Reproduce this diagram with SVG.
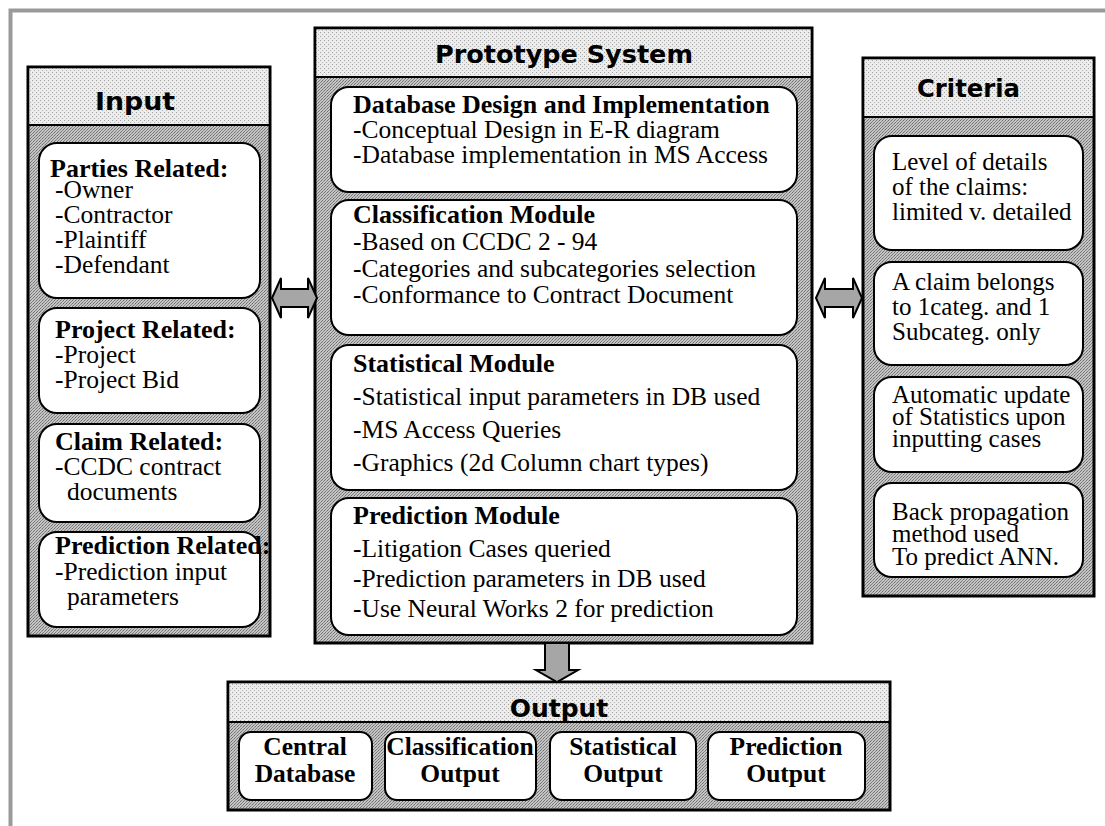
<svg xmlns="http://www.w3.org/2000/svg" width="1105" height="826" viewBox="0 0 1105 826">
<defs>
<pattern id="dith" width="3" height="3" patternUnits="userSpaceOnUse">
<rect width="3" height="3" fill="#c4c4c4"/>
<rect x="0" y="0" width="1" height="1" fill="#6e6e6e"/>
<rect x="2" y="1" width="1" height="1" fill="#8a8a8a"/>
<rect x="1" y="2" width="1" height="1" fill="#7a7a7a"/>
</pattern>
<pattern id="light" width="4" height="4" patternUnits="userSpaceOnUse">
<rect width="4" height="4" fill="#ececec"/>
<rect x="0" y="0" width="1" height="1" fill="#a0a0a0"/>
<rect x="2" y="2" width="1" height="1" fill="#b4b4b4"/>
</pattern>
</defs>
<style>
.outer{fill:url(#dith);stroke:#000;stroke-width:3}
.head{fill:url(#light);stroke:none}
.div{stroke:#000;stroke-width:2}
.inner{fill:#fff;stroke:#000;stroke-width:2}
.title{font-family:"DejaVu Sans",Verdana,sans-serif;font-weight:bold;font-size:25px;fill:#000}
.hb{font-family:"Liberation Serif","Times New Roman",serif;font-weight:bold;font-size:26px;fill:#000}
.tx{font-family:"Liberation Serif","Times New Roman",serif;font-size:25.5px;fill:#000}
.cx{font-family:"Liberation Serif","Times New Roman",serif;font-size:25px;fill:#000}
.ob{font-family:"Liberation Serif","Times New Roman",serif;font-weight:bold;font-size:25.5px;fill:#000;text-anchor:middle}
.arrow{fill:#a6a6a6;stroke:#000;stroke-width:2;stroke-linejoin:miter}
</style>
<rect width="1105" height="826" fill="#fff"/>
<path d="M10.5,826 V10.5 H1105" fill="none" stroke="#9a9a9a" stroke-width="4"/>

<g id="input">
<rect class="outer" x="28" y="67" width="242" height="569"/>
<rect class="head" x="29.5" y="68.5" width="239" height="56"/>
<line class="div" x1="28" y1="125" x2="270" y2="125"/>
<text class="title" x="95" y="110" textLength="80" lengthAdjust="spacingAndGlyphs">Input</text>
<rect class="inner" x="39" y="143" width="221" height="155" rx="18"/>
<text class="hb" x="50" y="177">Parties Related:</text>
<text class="tx" x="55" y="198">-Owner</text>
<text class="tx" x="55" y="223">-Contractor</text>
<text class="tx" x="55" y="248">-Plaintiff</text>
<text class="tx" x="55" y="273">-Defendant</text>
<rect class="inner" x="39" y="308" width="221" height="105" rx="18"/>
<text class="hb" x="55" y="338">Project Related:</text>
<text class="tx" x="55" y="363">-Project</text>
<text class="tx" x="55" y="388">-Project Bid</text>
<rect class="inner" x="39" y="424" width="221" height="98" rx="18"/>
<text class="hb" x="55" y="450">Claim Related:</text>
<text class="tx" x="55" y="475">-CCDC contract</text>
<text class="tx" x="67" y="500">documents</text>
<rect class="inner" x="39" y="532" width="221" height="95" rx="18"/>
<text class="hb" x="55" y="554">Prediction Related:</text>
<text class="tx" x="55" y="580">-Prediction input</text>
<text class="tx" x="67" y="605">parameters</text>
</g>

<g id="prototype">
<rect class="outer" x="315" y="28" width="497" height="615"/>
<rect class="head" x="316.5" y="29.5" width="494" height="47"/>
<line class="div" x1="315" y1="77" x2="812" y2="77"/>
<text class="title" x="435" y="63" textLength="258" lengthAdjust="spacingAndGlyphs">Prototype System</text>
<rect class="inner" x="331" y="87" width="466" height="105" rx="18"/>
<text class="hb" x="353" y="113">Database Design and Implementation</text>
<text class="tx" x="353" y="138">-Conceptual Design in E-R diagram</text>
<text class="tx" x="353" y="163">-Database implementation in MS Access</text>
<rect class="inner" x="331" y="200" width="466" height="135" rx="18"/>
<text class="hb" x="353" y="223">Classification Module</text>
<text class="tx" x="353" y="250">-Based on CCDC 2 - 94</text>
<text class="tx" x="353" y="277">-Categories and subcategories selection</text>
<text class="tx" x="353" y="303">-Conformance to Contract Document</text>
<rect class="inner" x="331" y="345" width="466" height="145" rx="18"/>
<text class="hb" x="353" y="372">Statistical Module</text>
<text class="tx" x="353" y="405">-Statistical input parameters in DB used</text>
<text class="tx" x="353" y="438">-MS Access Queries</text>
<text class="tx" x="353" y="471">-Graphics (2d Column chart types)</text>
<rect class="inner" x="331" y="498" width="466" height="137" rx="18"/>
<text class="hb" x="353" y="524">Prediction Module</text>
<text class="tx" x="353" y="557">-Litigation Cases queried</text>
<text class="tx" x="353" y="587">-Prediction parameters in DB used</text>
<text class="tx" x="353" y="617">-Use Neural Works 2 for prediction</text>
</g>

<g id="criteria">
<rect class="outer" x="863" y="58" width="231" height="538"/>
<rect class="head" x="864.5" y="59.5" width="228" height="57"/>
<line class="div" x1="863" y1="117" x2="1094" y2="117"/>
<text class="title" x="917" y="97" textLength="103" lengthAdjust="spacingAndGlyphs">Criteria</text>
<rect class="inner" x="874" y="136" width="209" height="114" rx="18"/>
<text class="cx" x="892" y="170">Level of details</text>
<text class="cx" x="892" y="195">of the claims:</text>
<text class="cx" x="892" y="220">limited v. detailed</text>
<rect class="inner" x="874" y="262" width="209" height="103" rx="18"/>
<text class="cx" x="892" y="290">A claim belongs</text>
<text class="cx" x="892" y="315">to 1categ. and 1</text>
<text class="cx" x="892" y="340">Subcateg. only</text>
<rect class="inner" x="874" y="377" width="209" height="95" rx="18"/>
<text class="cx" x="892" y="403">Automatic update</text>
<text class="cx" x="892" y="425">of Statistics upon</text>
<text class="cx" x="892" y="447">inputting cases</text>
<rect class="inner" x="874" y="483" width="209" height="94" rx="18"/>
<text class="cx" x="892" y="520">Back propagation</text>
<text class="cx" x="892" y="542">method used</text>
<text class="cx" x="892" y="565">To predict ANN.</text>
</g>

<g id="output">
<rect class="outer" x="228" y="682" width="662" height="128"/>
<rect class="head" x="229.5" y="683.5" width="659" height="38"/>
<line class="div" x1="228" y1="722" x2="890" y2="722"/>
<text class="title" x="559" y="717" text-anchor="middle">Output</text>
<rect class="inner" x="239" y="732" width="133" height="68" rx="12"/>
<text class="ob" x="305" y="755">Central</text>
<text class="ob" x="305" y="782">Database</text>
<rect class="inner" x="385" y="732" width="151" height="68" rx="12"/>
<text class="ob" x="460" y="755">Classification</text>
<text class="ob" x="460" y="782">Output</text>
<rect class="inner" x="550" y="732" width="146" height="68" rx="12"/>
<text class="ob" x="623" y="755">Statistical</text>
<text class="ob" x="623" y="782">Output</text>
<rect class="inner" x="708" y="732" width="157" height="68" rx="12"/>
<text class="ob" x="786" y="755">Prediction</text>
<text class="ob" x="786" y="782">Output</text>
</g>

<g id="connectors">
<polygon class="arrow" points="272,298 281,278 281,289 308,289 308,278 317,298 308,318 308,307 281,307 281,318"/>
<polygon class="arrow" points="816,298 825,278 825,289 853,289 853,278 862,298 853,318 853,307 825,307 825,318"/>
<polygon class="arrow" points="545,643 569,643 569,670 578,670 557,682 536,670 545,670"/>
</g>
</svg>
